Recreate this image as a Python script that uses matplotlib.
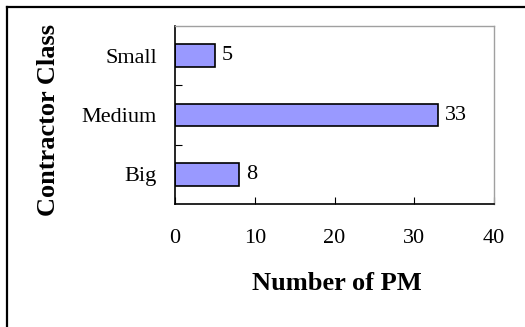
import matplotlib
matplotlib.use("Agg")
import matplotlib.pyplot as plt
from matplotlib.lines import Line2D

# Number of PM by contractor class (bottom to top)
classes = ["Big", "Medium", "Small"]
pm_counts = [8, 33, 5]
x_ticks = [0, 10, 20, 30, 40]

plt.rcParams["font.family"] = ["Liberation Serif", "DejaVu Serif"]
label_size = 16

fig = plt.figure(figsize=(5.25, 3.27), dpi=100)
ax = fig.add_axes([175 / 525, 1 - 204 / 327, (494 - 175) / 525, (204 - 26) / 327])

pos = list(range(len(classes)))
ax.barh(pos, pm_counts, height=0.38, color="#9999ff", edgecolor="black", linewidth=1.2)
for y, v in zip(pos, pm_counts):
    ax.annotate(str(v), (v, y), xytext=(5, 0), textcoords="offset points",
                va="center", ha="left", fontsize=label_size)

ax.set_xlim(0, 40)
ax.set_ylim(-0.5, 2.5)
ax.set_xticks(x_ticks)
ax.set_xticklabels([str(t) for t in x_ticks])
ax.set_yticks(pos)
ax.set_yticklabels(classes)
ax.set_yticks([0.5, 1.5], minor=True)

ax.tick_params(axis="x", direction="in", length=5, width=0.8, pad=18, labelsize=label_size)
ax.tick_params(axis="y", which="major", length=0, pad=13, labelsize=label_size)
ax.tick_params(axis="y", which="minor", direction="in", length=5, width=0.8)

for side in ("left", "bottom"):
    ax.spines[side].set_color("black")
    ax.spines[side].set_linewidth(1.2)
for side in ("top", "right"):
    ax.spines[side].set_color("#a0a0a0")
    ax.spines[side].set_linewidth(1.0)

fig.text(337 / 525, 1 - 284 / 327, "Number of PM", ha="center", va="center",
         fontsize=19, fontweight="bold")
fig.text(49 / 525, 1 - 120 / 327, "Contractor Class", ha="center", va="center",
         rotation=90, fontsize=19, fontweight="bold")

# open border along the top and left of the chart area
fig.add_artist(Line2D([7 / 525, 1], [1 - 7 / 327, 1 - 7 / 327],
                      transform=fig.transFigure, color="black", linewidth=1.6))
fig.add_artist(Line2D([7 / 525, 7 / 525], [0, 1 - 7 / 327],
                      transform=fig.transFigure, color="black", linewidth=1.6))

fig.savefig("out.png", dpi=100)
